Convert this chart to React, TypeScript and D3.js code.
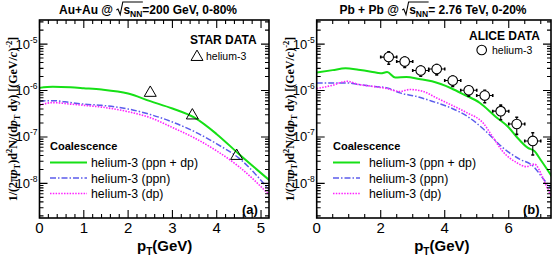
import * as d3 from "d3";

// ---- panel (a): Au+Au @ 200 GeV, 0-80%
const aPt = [0, 0.3, 0.7, 1.0, 1.4, 2.0, 2.5, 3.0, 3.5, 4.0, 4.5, 5.2];
const aPpnDp = [1.14e-6, 1.2e-6, 1.17e-6, 1.12e-6, 1.05e-6, 8.6e-7, 5.9e-7, 4.1e-7, 2.6e-7, 1.15e-7, 4.3e-8, 1.15e-8];
const aPpn = [5.9e-7, 6.05e-7, 5.5e-7, 5.1e-7, 4.8e-7, 4.0e-7, 3.05e-7, 2.1e-7, 1.3e-7, 7.1e-8, 3.5e-8, 7.0e-9];
const aDp = [4.8e-7, 5.5e-7, 5.1e-7, 4.8e-7, 4.4e-7, 3.5e-7, 2.6e-7, 1.6e-7, 9.5e-8, 5.0e-8, 2.3e-8, 5.5e-9];
const starPt = [2.5, 3.45, 4.45];
const starVal = [8.9e-7, 2.9e-7, 3.9e-8];
const aTicks = [0, 1, 2, 3, 4, 5];

// ---- panel (b): Pb+Pb @ 2.76 TeV, 0-20%
const bPtG = [0, 0.5, 0.9, 1.3, 1.7, 2.0, 2.2, 2.45, 2.8, 3.2, 3.6, 4.2, 4.6, 5.1, 5.6, 6.0, 6.25, 6.6, 6.8, 7.0, 7.35];
const bPpnDp = [2.45e-6, 2.75e-6, 3.0e-6, 2.8e-6, 2.55e-6, 2.35e-6, 2.5e-6, 1.9e-6, 1.95e-6, 1.77e-6, 1.58e-6, 1.12e-6, 8.2e-7, 5.4e-7, 2.7e-7, 1.6e-7, 1.0e-7, 5.8e-8, 5.0e-8, 3.2e-8, 1.4e-8];
const bPtB = [0, 0.5, 0.95, 1.3, 1.7, 2.2, 2.6, 3.1, 3.6, 4.2, 4.7, 5.2, 5.5, 5.8, 6.35, 6.75, 7.1, 7.35];
const bPpn = [1.45e-6, 1.45e-6, 1.46e-6, 1.35e-6, 1.24e-6, 1.14e-6, 8.9e-7, 7.5e-7, 5.9e-7, 4.2e-7, 2.8e-7, 1.5e-7, 9.5e-8, 6.0e-8, 3.3e-8, 2.4e-8, 1.2e-8, 7.5e-9];
const bPtM = [0, 0.5, 0.95, 1.3, 1.7, 2.2, 2.6, 2.9, 3.3, 3.75, 4.2, 4.7, 5.2, 5.5, 5.8, 6.25, 6.55, 6.8, 7.05, 7.2, 7.35];
const bDp = [1.1e-6, 1.3e-6, 1.58e-6, 1.35e-6, 1.24e-6, 1.1e-6, 9.5e-7, 1.05e-6, 9.7e-7, 6.9e-7, 4.9e-7, 3.3e-7, 2.0e-7, 1.0e-7, 5.0e-8, 2.8e-8, 2.3e-8, 2.6e-8, 1.4e-8, 8e-9, 5e-9];
const alicePt = [2.25, 2.75, 3.25, 3.75, 4.25, 4.75, 5.25, 5.75, 6.25, 6.75];
const aliceVal = [5.25e-6, 4.2e-6, 2.7e-6, 2.9e-6, 1.64e-6, 1.01e-6, 7.8e-7, 3.6e-7, 1.9e-7, 8.2e-8];
const aliceErr = [0.3, 0.25, 0.25, 0.25, 0.25, 0.25, 0.3, 0.35, 0.4, 0.5];
const aliceBin = 0.25;
const bTicks = [0, 2, 4, 6];

const yDecades = [1e-8, 1e-7, 1e-6, 1e-5];
const legendLabels = ["helium-3 (ppn + dp)", "helium-3 (ppn)", "helium-3 (dp)"];

const TOP = 20, BOTTOM = 218;
const y = d3.scaleLog().domain([1.8e-9, 3.3e-5]).range([BOTTOM, TOP]);
const xA = d3.scaleLinear().domain([0, 5.18]).range([39.5, 269]);
const xB = d3.scaleLinear().domain([0, 7.32]).range([316.7, 551]);

const GREEN = "#16e016", BLUE = "#5c5cec", MAGENTA = "#ff22ff";
const SANS = "Liberation Sans, Arial, sans-serif";
const styles = [
  { color: GREEN, width: 2, dash: undefined as string | undefined },
  { color: BLUE, width: 1.5, dash: "6 2 1.5 2" },
  { color: MAGENTA, width: 1.6, dash: "1.5 1.3" },
];

let ctx: CanvasRenderingContext2D | null = null;
function tw(s: string, font: string) {
  if (!ctx) ctx = document.createElement("canvas").getContext("2d");
  ctx!.font = font;
  return ctx!.measureText(s).width;
}

function Title({ cx, pre, post }: { cx: number; pre: string; post: string }) {
  const base = 14;
  const F = `bold 12px ${SANS}`, FS = `bold 8.5px ${SANS}`;
  const xPre = cx - (tw(pre + " ", F) + 7 + tw("s", F) + tw("NN", FS) + tw(post, F)) / 2;
  const xr = xPre + tw(pre + " ", F);
  const xs = xr + 7;
  const xn = xs + tw("s", F);
  const xp = xn + tw("NN", FS);
  return (
    <g fontFamily={SANS} fontWeight="bold" fontSize={12}>
      <text x={xPre} y={base}>{pre}</text>
      <path d={`M${xr},${base - 4} l1.6,-1 l2.2,5.5 l2.6,-12.5 H${xp + 0.5}`} fill="none" stroke="#000" strokeWidth={1.1} />
      <text x={xs} y={base}>s</text>
      <text x={xn} y={base + 3} fontSize={8.5}>NN</text>
      <text x={xp} y={base}>{post}</text>
    </g>
  );
}

type Curve = { pt: number[]; val: number[] };

function Panel({ id, x, ticks, minorStep, curves, yTitleX, children }: {
  id: string; x: d3.ScaleLinear<number, number>; ticks: number[]; minorStep: number;
  curves: Curve[]; yTitleX: number; children?: any;
}) {
  const [x0, x1] = x.range();
  const [xmin, xmax] = x.domain();
  const [d0, d1] = y.domain();
  const minorX = d3.range(xmin, xmax + 1e-9, minorStep).filter(v => !ticks.some(t => Math.abs(t - v) < 1e-6));
  const yMinor: number[] = [];
  for (let e = -9; e <= -5; e++) for (let m = 2; m <= 9; m++) {
    const v = m * Math.pow(10, e);
    if (v > d0 && v < d1) yMinor.push(v);
  }
  let tick = "";
  ticks.forEach(t => { const px = x(t); tick += `M${px},${BOTTOM}v-8M${px},${TOP}v8`; });
  minorX.forEach(t => { const px = x(t); tick += `M${px},${BOTTOM}v-4M${px},${TOP}v4`; });
  yDecades.forEach(v => { const py = y(v); tick += `M${x0},${py}h8M${x1},${py}h-8`; });
  yMinor.forEach(v => { const py = y(v); tick += `M${x0},${py}h4M${x1},${py}h-4`; });

  const line = d3.line<[number, number]>().x(d => x(d[0])).y(d => y(d[1])).curve(d3.curveMonotoneX);

  return (
    <g>
      <defs>
        <clipPath id={id}><rect x={x0} y={TOP} width={x1 - x0} height={BOTTOM - TOP} /></clipPath>
      </defs>
      <g clipPath={`url(#${id})`}>
        {curves.map((c, i) => (
          <path key={i} d={line(c.pt.map((p, j) => [p, c.val[j]] as [number, number])) ?? ""}
            fill="none" stroke={styles[i].color} strokeWidth={styles[i].width} strokeDasharray={styles[i].dash} />
        ))}
      </g>
      {children}
      <path d={tick} stroke="#000" strokeWidth={1.1} fill="none" />
      <rect x={x0} y={TOP} width={x1 - x0} height={BOTTOM - TOP} fill="none" stroke="#000" strokeWidth={1.6} />
      <g fontFamily={SANS} fontSize={15} textAnchor="middle">
        {ticks.map(t => <text key={t} x={x(t)} y={233}>{t}</text>)}
      </g>
      <g fontFamily={SANS} textAnchor="end">
        {yDecades.map(v => (
          <text key={v} x={x0 - 2} y={y(v) + 4.5} fontSize={13}>10<tspan dy={-6} fontSize={8.5}>{Math.round(Math.log10(v))}</tspan></text>
        ))}
      </g>
      <text x={x0 + 97.5} y={251} fontFamily={SANS} fontWeight="bold" fontSize={15}>
        p<tspan dy={4} fontSize={10}>T</tspan><tspan dy={-4}>(GeV)</tspan>
      </text>
      <text transform={`translate(${yTitleX},119) rotate(-90)`} textAnchor="middle"
        fontFamily="Liberation Serif, Times New Roman, serif" fontWeight="bold" fontSize={12}>
        1/(2π<tspan fontStyle="italic">p</tspan><tspan dy={3} fontSize={8.5}>T</tspan><tspan dy={-3}>)d</tspan><tspan dy={-5} fontSize={8.5}>2</tspan><tspan dy={5}>N/(d</tspan><tspan fontStyle="italic">p</tspan><tspan dy={3} fontSize={8.5}>T</tspan><tspan dy={-3}> dy) [(GeV/</tspan><tspan fontStyle="italic">c</tspan><tspan>)</tspan><tspan dy={-5} fontSize={8.5}>-2</tspan><tspan dy={5}>]</tspan>
      </text>
    </g>
  );
}

function CoalLegend({ x, lineStart, lineEnd, textX }: { x: number; lineStart: number; lineEnd: number; textX: number }) {
  const rows = [162.5, 178, 193.5];
  return (
    <g fontFamily={SANS}>
      <text x={x} y={150} fontWeight="bold" fontSize={11}>Coalescence</text>
      {legendLabels.map((lab, i) => (
        <g key={lab}>
          <line x1={lineStart} x2={lineEnd} y1={rows[i]} y2={rows[i]} stroke={styles[i].color}
            strokeWidth={styles[i].width} strokeDasharray={styles[i].dash} />
          <text x={textX} y={rows[i] + 4.5} fontSize={12.3}>{lab}</text>
        </g>
      ))}
    </g>
  );
}

export default function App() {
  const tri = d3.symbol(d3.symbolTriangle, 62)() ?? "";
  return (
    <svg width={552} height={259} style={{ position: "absolute", left: 0, top: 0, background: "#fff" }}>
      <Title cx={148} pre="Au+Au @" post="=200 GeV, 0-80%" />
      <Title cx={433} pre="Pb + Pb @" post="= 2.76 TeV, 0-20%" />

      <Panel id="clipA" x={xA} ticks={aTicks} minorStep={0.2} yTitleX={17}
        curves={[{ pt: aPt, val: aPpnDp }, { pt: aPt, val: aPpn }, { pt: aPt, val: aDp }]}>
        {starPt.map((p, i) => (
          <path key={i} d={tri} transform={`translate(${xA(p)},${y(starVal[i])})`} fill="none" stroke="#000" strokeWidth={1} />
        ))}
        <text x={190} y={43.5} fontFamily={SANS} fontWeight="bold" fontSize={12}>STAR DATA</text>
        <path d={tri} transform="translate(197,57)" fill="none" stroke="#000" strokeWidth={1} />
        <text x={206} y={60} fontFamily={SANS} fontSize={10.5}>helium-3</text>
        <CoalLegend x={50} lineStart={50} lineEnd={87} textX={91} />
        <text x={242} y={214} fontFamily={SANS} fontWeight="bold" fontSize={13}>(a)</text>
      </Panel>

      <Panel id="clipB" x={xB} ticks={bTicks} minorStep={0.5} yTitleX={294}
        curves={[{ pt: bPtG, val: bPpnDp }, { pt: bPtB, val: bPpn }, { pt: bPtM, val: bDp }]}>
        {alicePt.map((p, i) => {
          const cx = xB(p), cy = y(aliceVal[i]);
          const xl = xB(p - aliceBin), xr = xB(p + aliceBin);
          const yu = y(aliceVal[i] * (1 + aliceErr[i])), yd = y(aliceVal[i] * (1 - aliceErr[i]));
          return (
            <g key={i} stroke="#000">
              <path d={`M${xl},${cy}H${xr}M${cx},${yu}V${yd}`} strokeWidth={1.1} />
              <path d={`M${xl},${cy - 1.5}v3M${xr},${cy - 1.5}v3M${cx - 1.5},${yu}h3M${cx - 1.5},${yd}h3`} strokeWidth={1.6} />
              <circle cx={cx} cy={cy} r={4.8} fill="#fff" strokeWidth={1.1} />
            </g>
          );
        })}
        <text x={469} y={40} fontFamily={SANS} fontWeight="bold" fontSize={12}>ALICE DATA</text>
        <circle cx={481.7} cy={50} r={4.8} fill="#fff" stroke="#000" strokeWidth={1.1} />
        <text x={492} y={54} fontFamily={SANS} fontSize={10.5}>helium-3</text>
        <CoalLegend x={333} lineStart={333} lineEnd={360} textX={369} />
        <text x={523} y={214} fontFamily={SANS} fontWeight="bold" fontSize={13}>(b)</text>
      </Panel>
    </svg>
  );
}
